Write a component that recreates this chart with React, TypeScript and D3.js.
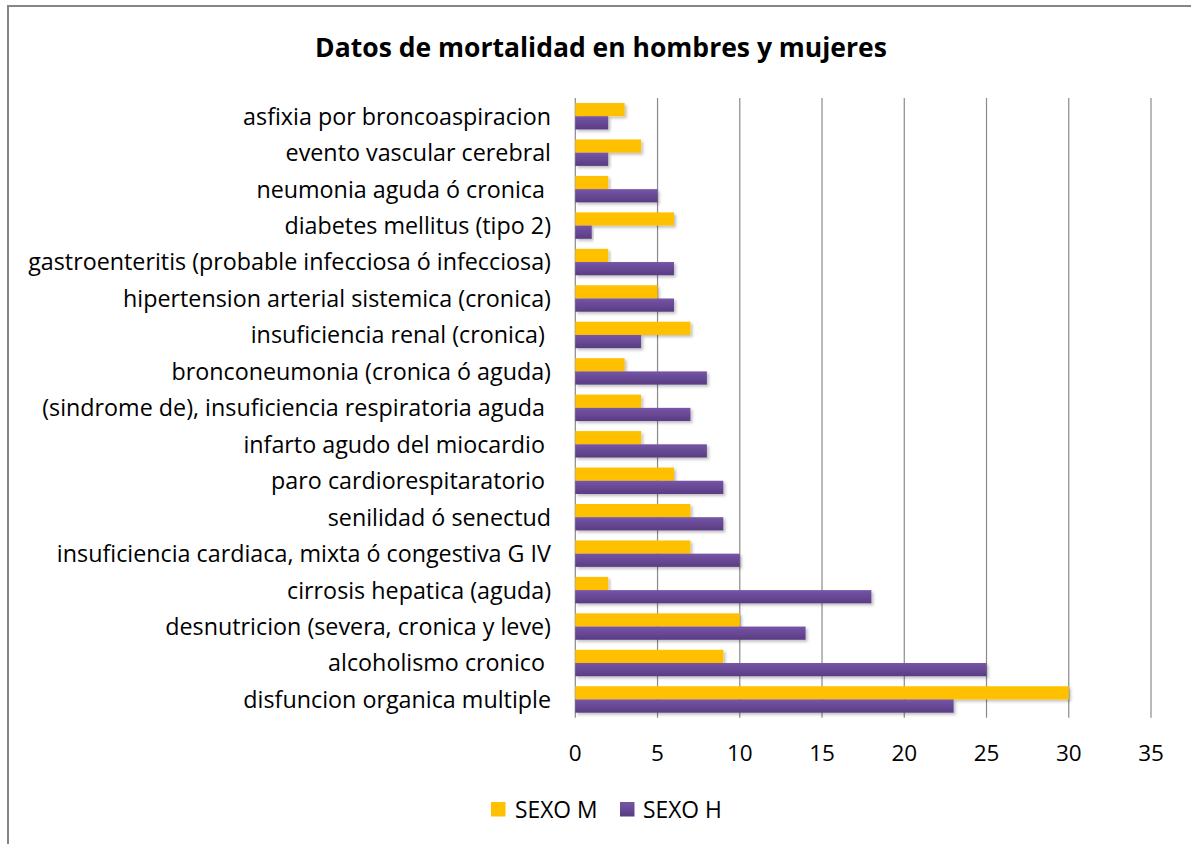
import React from "react";
import * as d3 from "d3";

const categories = [
  "asfixia por broncoaspiracion",
  "evento vascular cerebral",
  "neumonia aguda ó cronica ",
  "diabetes mellitus (tipo 2)",
  "gastroenteritis (probable infecciosa ó infecciosa)",
  "hipertension arterial sistemica (cronica)",
  "insuficiencia renal (cronica) ",
  "bronconeumonia (cronica ó aguda)",
  "(sindrome de), insuficiencia respiratoria aguda ",
  "infarto agudo del miocardio ",
  "paro cardiorespitaratorio ",
  "senilidad ó senectud",
  "insuficiencia cardiaca, mixta ó congestiva G IV",
  "cirrosis hepatica (aguda)",
  "desnutricion (severa, cronica y leve)",
  "alcoholismo cronico ",
  "disfuncion organica multiple",
];
const sexoM = [3, 4, 2, 6, 2, 5, 7, 3, 4, 4, 6, 7, 7, 2, 10, 9, 30];
const sexoH = [2, 2, 5, 1, 6, 6, 4, 8, 7, 8, 9, 9, 10, 18, 14, 25, 23];
const seriesNames = ["SEXO M", "SEXO H"];
const xTicks = [0, 5, 10, 15, 20, 25, 30, 35];
const title = "Datos de mortalidad en hombres y mujeres";

const W = 1191;
const H = 844;
const FONT = "'Open Sans', 'Noto Sans', sans-serif";

export default function App() {
  const x = d3.scaleLinear().domain([0, 35]).range([575.3, 1151]);
  const y = d3
    .scaleBand<string>()
    .domain(categories)
    .range([98, 717.7])
    .paddingInner(0.275)
    .paddingOuter(0.1375);
  const sub = d3
    .scaleBand<string>()
    .domain(seriesNames)
    .range([0, y.bandwidth()]);

  const series = [
    { name: seriesNames[0], values: sexoM, fill: "#FFC000" },
    { name: seriesNames[1], values: sexoH, fill: "url(#purpleGrad)" },
  ];

  const textStyle: React.CSSProperties = {
    whiteSpace: "pre",
    fontVariantLigatures: "none",
  };

  return (
    <svg
      width={W}
      height={H}
      style={{ position: "absolute", left: 0, top: 0, background: "#fff" }}
    >
      <defs>
        <linearGradient id="purpleGrad" x1="0" y1="0" x2="0" y2="1">
          <stop offset="0" stopColor="#7655a6" />
          <stop offset="1" stopColor="#593c83" />
        </linearGradient>
        <filter id="shadow" x="-5%" y="-30%" width="115%" height="180%">
          <feDropShadow dx="2" dy="2" stdDeviation="1.5" floodColor="#000" floodOpacity="0.25" />
        </filter>
      </defs>
      <rect x={0} y={0} width={W} height={H} fill="#fff" />
      <rect x={8} y={6} width={W + 20} height={H + 20} fill="none" stroke="#868686" strokeWidth={2} />

      <text
        x={601}
        y={57}
        textAnchor="middle"
        fontFamily={FONT}
        fontWeight="bold"
        fontSize={26.5}
        fill="#000"
        style={textStyle}
      >
        {title}
      </text>

      {xTicks.map((t) => (
        <line
          key={"g" + t}
          x1={x(t)}
          x2={x(t)}
          y1={98}
          y2={717.7}
          stroke="#8a8a8a"
          strokeWidth={1.2}
        />
      ))}

      {series.map((s) =>
        categories.map((c, i) => (
          <rect
            key={s.name + c}
            x={x(0)}
            y={(y(c) as number) + (sub(s.name) as number)}
            width={x(s.values[i]) - x(0)}
            height={sub.bandwidth()}
            fill={s.fill}
            filter="url(#shadow)"
          />
        ))
      )}

      {categories.map((c) => (
        <text
          key={"l" + c}
          x={551}
          y={(y(c) as number) + y.bandwidth() / 2}
          dy="0.36em"
          textAnchor="end"
          fontFamily={FONT}
          fontSize={23.3}
          fill="#000"
          style={textStyle}
        >
          {c}
        </text>
      ))}

      {xTicks.map((t) => (
        <text
          key={"t" + t}
          x={x(t)}
          y={761}
          textAnchor="middle"
          fontFamily={FONT}
          fontSize={22.5}
          fill="#000"
        >
          {t}
        </text>
      ))}

      <g fontFamily={FONT} fontSize={22.8} fill="#000">
        <rect x={491} y={802} width={14.5} height={14.5} fill="#FFC000" />
        <text x={515} y={809.5} dy="0.36em" style={textStyle}>{seriesNames[0]}</text>
        <rect x={620} y={802} width={14.5} height={14.5} fill="url(#purpleGrad)" />
        <text x={643} y={809.5} dy="0.36em" style={textStyle}>{seriesNames[1]}</text>
      </g>
    </svg>
  );
}
